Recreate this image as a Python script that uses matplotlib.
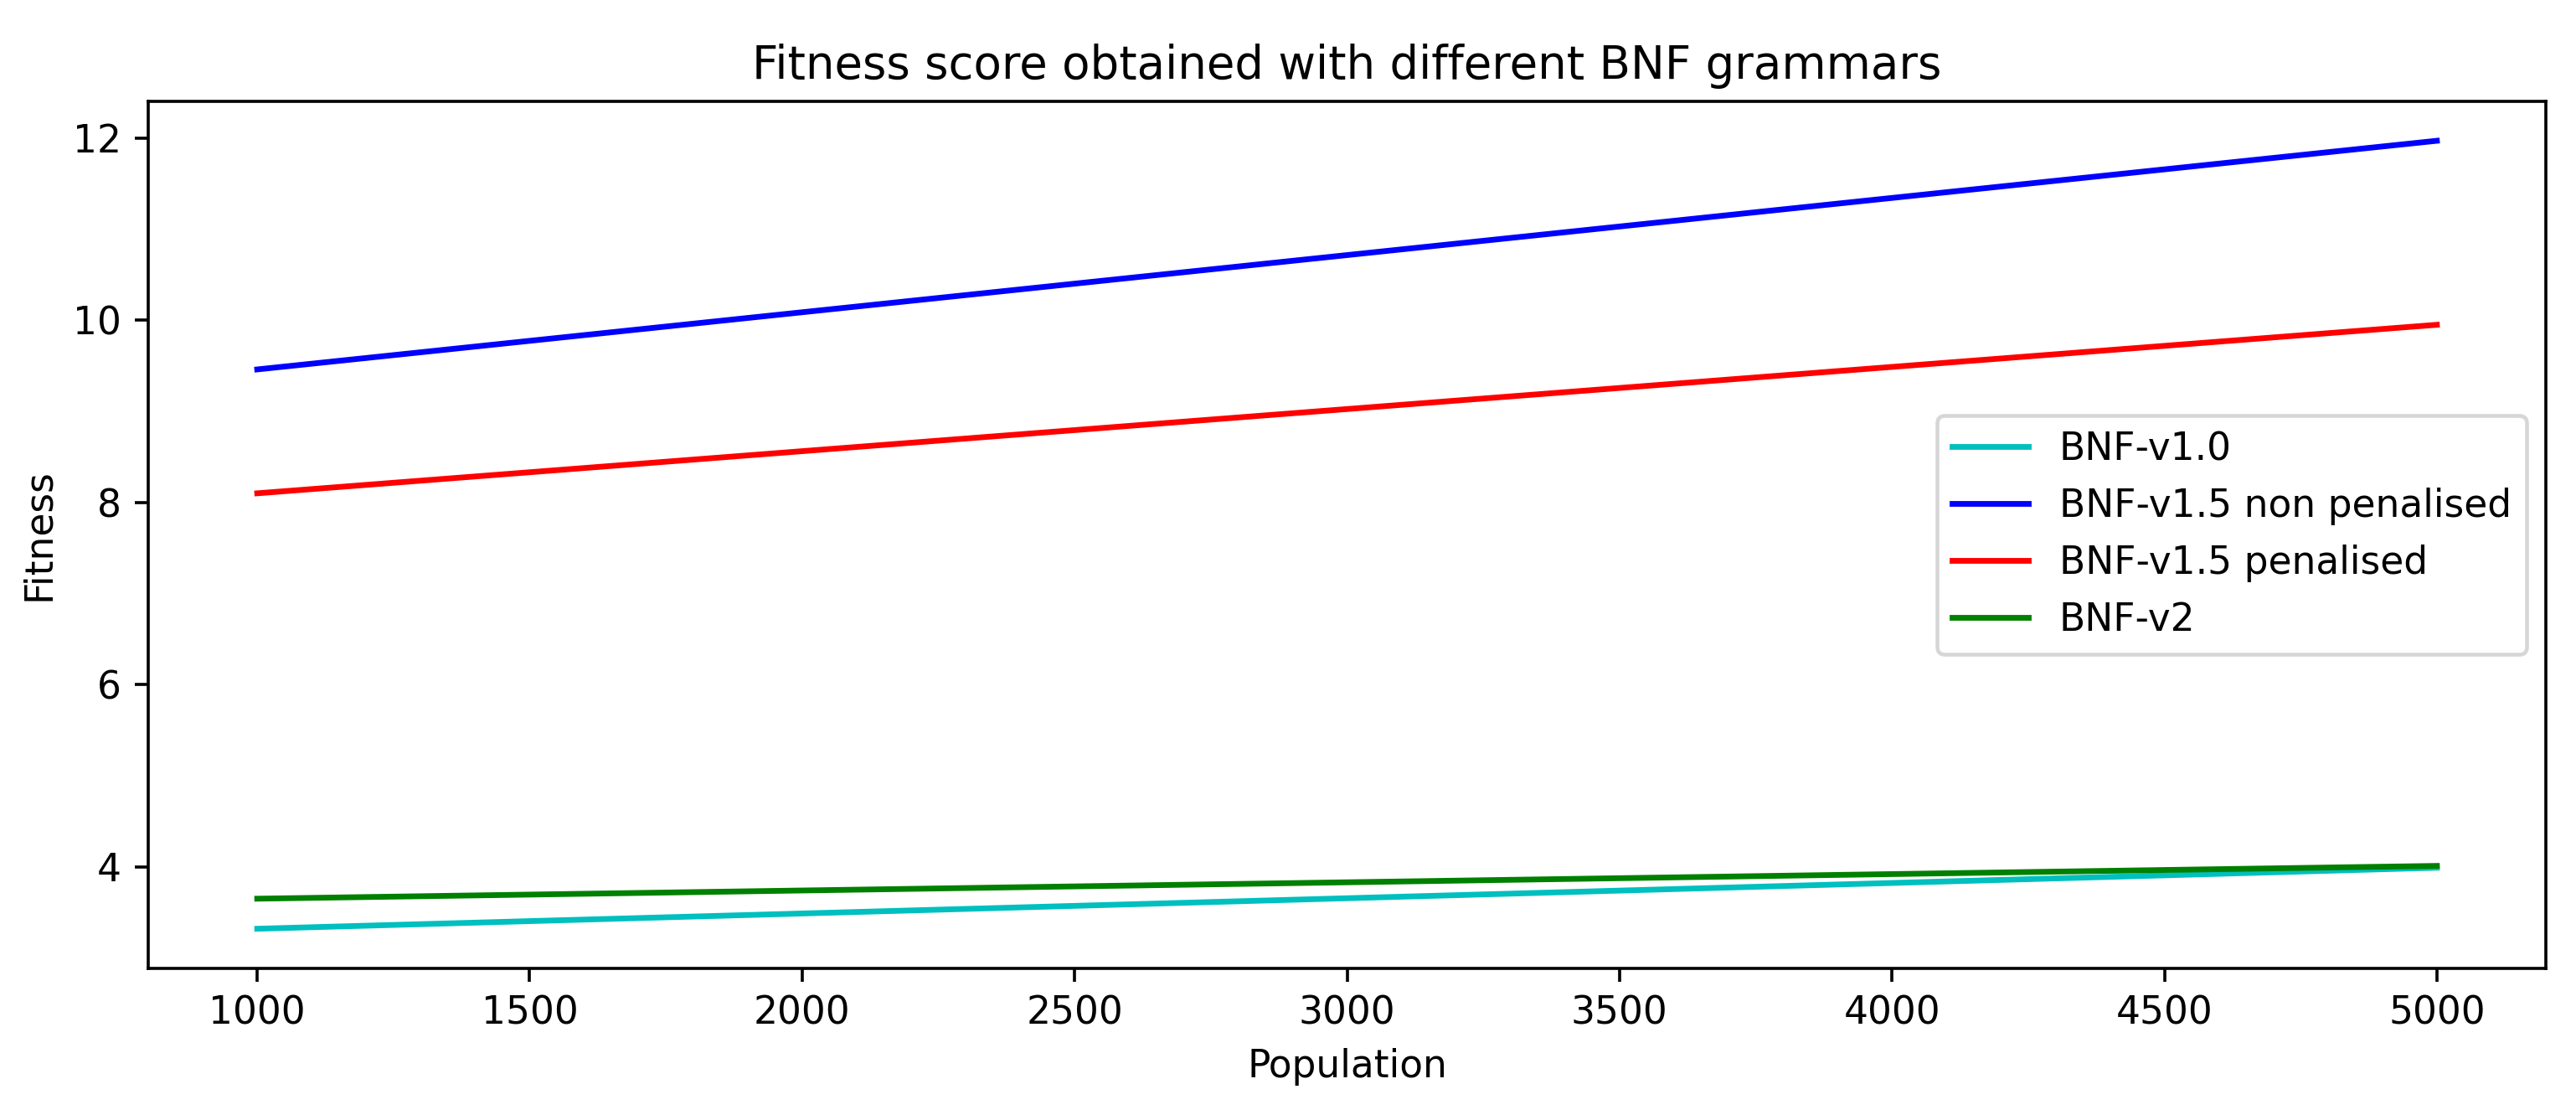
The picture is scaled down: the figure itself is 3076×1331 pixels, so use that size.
import matplotlib
matplotlib.use("Agg")
import matplotlib.pyplot as plt

population = [1000, 5000]
bnf_v10 = [3.32, 3.99]
bnf_v15_non_pen = [9.46, 11.97]
bnf_v15_pen = [8.10, 9.95]
bnf_v2 = [3.65, 4.01]

DPI = 328
fig = plt.figure(figsize=(3076 / DPI, 1331 / DPI), dpi=DPI)
ax = fig.add_axes([177 / 3076, 1 - 1155.7 / 1331, (3040 - 177) / 3076, (1155.7 - 121) / 1331])

ax.plot(population, bnf_v10, color='c', label='BNF-v1.0')
ax.plot(population, bnf_v15_non_pen, color='b', label='BNF-v1.5 non penalised')
ax.plot(population, bnf_v15_pen, color='r', label='BNF-v1.5 penalised')
ax.plot(population, bnf_v2, color='g', label='BNF-v2')

ax.set_title('Fitness score obtained with different BNF grammars')
ax.set_xlabel('Population')
ax.set_ylabel('Fitness')
ax.legend(loc='center right')

fig.savefig('out.png', dpi=DPI)
